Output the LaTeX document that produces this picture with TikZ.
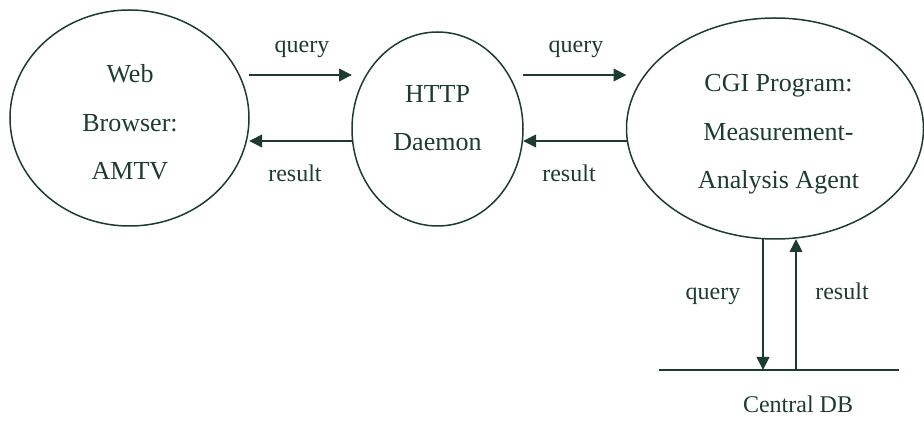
\documentclass[tikz,border=0pt]{standalone}
\usepackage{fontspec}
\setmainfont{Liberation Serif}
\usetikzlibrary{arrows.meta,shapes.geometric}
\definecolor{ink}{RGB}{28,60,48}
\tikzset{
  blob/.style={draw=ink, ellipse, line width=1.5pt, inner sep=0pt, outer sep=0pt},
  boxtext/.style={text=ink, align=center, font=\fontsize{26}{48.5}\selectfont},
  flow/.style={draw=ink, line width=2pt, -{Triangle[length=13pt,width=12.5pt]}},
  dbline/.style={draw=ink, line width=1.8pt},
  lbl/.style={text=ink, anchor=base, inner sep=0pt, font=\fontsize{24}{28}\selectfont}
}
\begin{document}
\begin{tikzpicture}[x=1pt,y=-1pt]
\useasboundingbox (0,0) rectangle (924,430);

% processes
\node[blob, minimum width=239pt, minimum height=216pt] (web)  at (129.5,118) {};
\node[blob, minimum width=171pt, minimum height=194pt] (http) at (437.5,129) {};
\node[blob, minimum width=297pt, minimum height=221pt] (cgi)  at (775,128.5) {};

\node[boxtext] (webtext)  at (130,122.5)   {Web\\Browser:\\AMTV};
\node[boxtext] (httptext) at (437.5,118) {HTTP\\Daemon};
\node[boxtext] (cgitext)  at (778.5,134.5)   {CGI Program:\\Measurement-\\Analysis Agent};

% levels of the horizontal flows
\coordinate (qy) at (0,75);
\coordinate (ry) at (0,141);

\draw[flow] (web.east |- qy) -- (http.west |- qy);
\draw[flow] (http.west |- ry) -- (web.east |- ry);
\draw[flow] (http.east |- qy) -- (cgi.west |- qy);
\draw[flow] (cgi.west |- ry) -- (http.east |- ry);

\node[lbl] (q1) at (302,53)  {query};
\node[lbl] (r1) at (295,182) {result};
\node[lbl] (q2) at (576,53)  {query};
\node[lbl] (r2) at (569,182) {result};

% data store
\coordinate (dbl) at (659,370);
\coordinate (dbr) at (899,370);
\draw[dbline] (dbl) -- (dbr);
\node[lbl] (db) at (798,412) {Central DB};

\coordinate (qx) at (763,0);
\coordinate (rx) at (796,0);
\draw[flow] (cgi.south -| qx) -- (dbl -| qx);
\draw[flow] (dbl -| rx) -- (cgi.south -| rx);

\node[lbl] (q3) at (713,300) {query};
\node[lbl] (r3) at (842,300) {result};
\end{tikzpicture}
\end{document}
